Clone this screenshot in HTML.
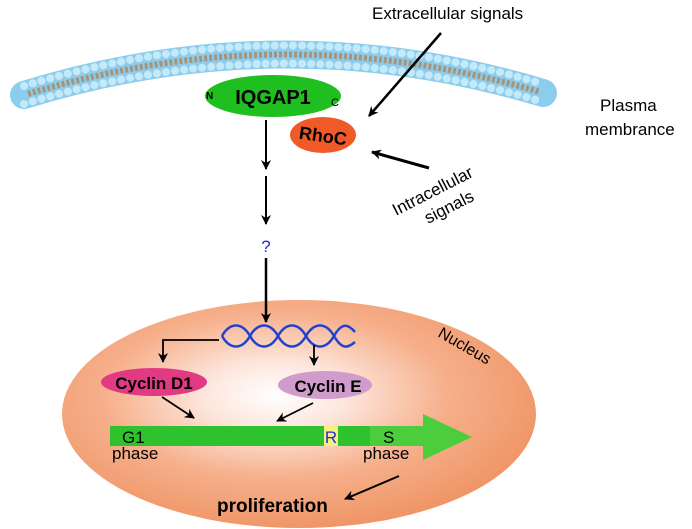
<!DOCTYPE html>
<html><head><meta charset="utf-8"><style>
html,body{margin:0;padding:0;background:#fff;}
svg{display:block;font-family:"Liberation Sans",Arial,sans-serif;}
</style></head><body>
<svg width="692" height="529" viewBox="0 0 692 529" xmlns="http://www.w3.org/2000/svg">
<defs>
<radialGradient id="nuc" cx="0.45" cy="0.42" r="0.6">
<stop offset="0" stop-color="#ffffff"/>
<stop offset="0.25" stop-color="#fde6dc"/>
<stop offset="0.6" stop-color="#f6b08c"/>
<stop offset="1" stop-color="#ef9464"/>
</radialGradient>
<marker id="ah" markerWidth="10" markerHeight="10" refX="9" refY="5" orient="auto" markerUnits="userSpaceOnUse">
<path d="M0,0 L10,5 L0,10 L3,5 Z" fill="#000"/>
</marker>
</defs>

<!-- membrane -->
<path d="M24,95 Q283,15 543,93" fill="none" stroke="#8ccdee" stroke-width="28" stroke-linecap="round"/>
<path d="M24,86 Q283,6 543,84" fill="none" stroke="#c4e9f9" stroke-width="8" stroke-linecap="round" stroke-dasharray="0.1 9"/>
<path d="M24,104 Q283,24 543,102" fill="none" stroke="#c4e9f9" stroke-width="8" stroke-linecap="round" stroke-dasharray="0.1 9"/>
<path d="M28,94 Q283,16 540,92" fill="none" stroke="#a89478" stroke-width="6" stroke-dasharray="3 2"/>

<!-- IQGAP1 & RhoC -->
<ellipse cx="273" cy="96" rx="68" ry="21" fill="#1fbf1f"/>
<text x="273" y="104" font-size="20" font-weight="bold" text-anchor="middle">IQGAP1</text>
<text x="206" y="99" font-size="10" font-weight="bold">N</text>
<text x="331" y="106" font-size="11">C</text>
<ellipse cx="323" cy="135" rx="33" ry="18" fill="#f05a28"/>
<text x="323" y="142" font-size="18" font-weight="bold" text-anchor="middle" transform="rotate(8 323 136)">RhoC</text>

<!-- signals -->
<text x="372" y="19" font-size="17">Extracellular signals</text>
<line x1="441" y1="33" x2="369" y2="116" stroke="#000" stroke-width="2.5" marker-end="url(#ah)"/>
<line x1="429" y1="168" x2="372" y2="152" stroke="#000" stroke-width="3" marker-end="url(#ah)"/>
<text font-size="17" transform="translate(396,216) rotate(-27)">Intracellular</text>
<text font-size="17" transform="translate(428,224) rotate(-27)">signals</text>
<text x="600" y="111" font-size="17">Plasma</text>
<text x="585" y="135" font-size="17">membrance</text>

<!-- vertical arrows -->
<line x1="266" y1="120" x2="266" y2="169" stroke="#000" stroke-width="2" marker-end="url(#ah)"/>
<line x1="266" y1="176" x2="266" y2="224" stroke="#000" stroke-width="2" marker-end="url(#ah)"/>
<text x="266" y="252" font-size="17" fill="#2a2ad0" text-anchor="middle">?</text>

<!-- nucleus -->
<ellipse cx="299" cy="414" rx="237" ry="114" fill="url(#nuc)"/>
<line x1="266" y1="258" x2="266" y2="322" stroke="#000" stroke-width="2.5" marker-end="url(#ah)"/>
<text font-size="16" transform="translate(437,336) rotate(30)">Nucleus</text>

<!-- DNA -->
<path d="M222,336 C230,322 242,322 250,336 S270,350 278,336 S298,322 306,336 S326,350 334,336 S348,324 355,332" fill="none" stroke="#2244cc" stroke-width="2.5"/>
<path d="M222,336 C230,350 242,350 250,336 S270,322 278,336 S298,350 306,336 S326,322 334,336 S348,348 355,342" fill="none" stroke="#2244cc" stroke-width="2.5"/>

<!-- bracket arrows -->
<polyline points="219,340 163,340 163,362" fill="none" stroke="#000" stroke-width="1.8" marker-end="url(#ah)"/>
<line x1="314" y1="345" x2="314" y2="365" stroke="#000" stroke-width="1.8" marker-end="url(#ah)"/>

<!-- cyclins -->
<ellipse cx="154" cy="382" rx="53" ry="14" fill="#e23a82"/>
<text x="154" y="389" font-size="17" font-weight="bold" text-anchor="middle">Cyclin D1</text>
<ellipse cx="325" cy="385" rx="47" ry="14" fill="#cf9ccc"/>
<text x="328" y="392" font-size="17" font-weight="bold" text-anchor="middle">Cyclin E</text>
<line x1="162" y1="397" x2="194" y2="418" stroke="#000" stroke-width="1.8" marker-end="url(#ah)"/>
<line x1="313" y1="403" x2="277" y2="421" stroke="#000" stroke-width="1.8" marker-end="url(#ah)"/>

<!-- cell cycle arrow -->
<rect x="110" y="426" width="262" height="20" fill="#2ec22e"/>
<polygon points="370,426 423,426 423,414 472,437 423,460 423,446 370,446" fill="#4ccd3c"/>
<rect x="324" y="426" width="14" height="20" fill="#f4f080"/>
<text x="331" y="443" font-size="17" fill="#2a2ad0" text-anchor="middle">R</text>
<text x="122" y="443" font-size="17">G1</text>
<text x="112" y="459" font-size="17">phase</text>
<text x="383" y="443" font-size="17">S</text>
<text x="363" y="459" font-size="17">phase</text>

<line x1="399" y1="476" x2="345" y2="499" stroke="#000" stroke-width="2" marker-end="url(#ah)"/>
<text x="217" y="512" font-size="19" font-weight="bold">proliferation</text>
</svg>
</body></html>
